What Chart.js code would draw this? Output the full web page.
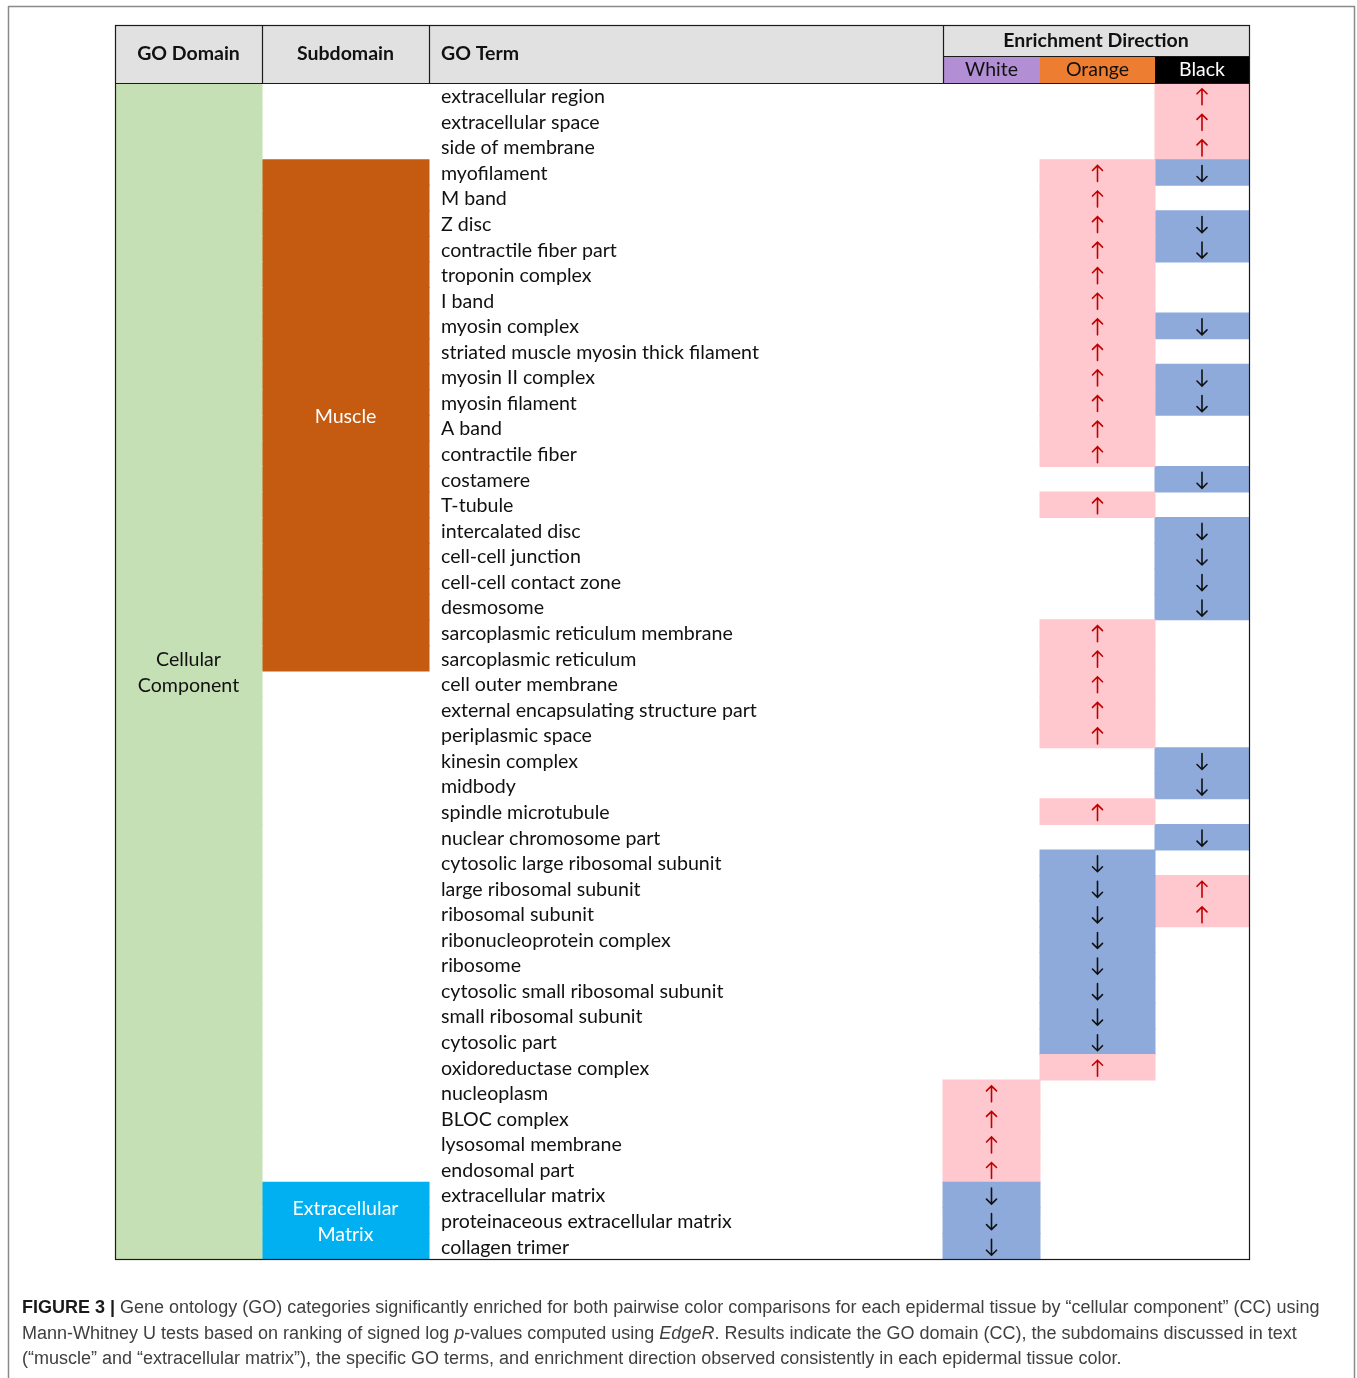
<!DOCTYPE html>
<html><head><meta charset="utf-8">
<script src="https://cdn.jsdelivr.net/npm/chart.js@4.4.1/dist/chart.umd.min.js"></script>
<style>html,body{margin:0;padding:0;background:#fff;overflow:hidden}#wrap{width:1357px;height:1378px;position:relative}canvas{display:block}</style>
</head><body><div id="wrap"><canvas id="c" width="1357" height="1378"></canvas></div>
<script>
// ---------- DATA ----------
const goTerms = [
  'extracellular region','extracellular space','side of membrane','myofilament','M band','Z disc',
  'contractile fiber part','troponin complex','I band','myosin complex','striated muscle myosin thick filament',
  'myosin II complex','myosin filament','A band','contractile fiber','costamere','T-tubule','intercalated disc',
  'cell-cell junction','cell-cell contact zone','desmosome','sarcoplasmic reticulum membrane','sarcoplasmic reticulum',
  'cell outer membrane','external encapsulating structure part','periplasmic space','kinesin complex','midbody',
  'spindle microtubule','nuclear chromosome part','cytosolic large ribosomal subunit','large ribosomal subunit',
  'ribosomal subunit','ribonucleoprotein complex','ribosome','cytosolic small ribosomal subunit',
  'small ribosomal subunit','cytosolic part','oxidoreductase complex','nucleoplasm','BLOC complex',
  'lysosomal membrane','endosomal part','extracellular matrix','proteinaceous extracellular matrix','collagen trimer'
];
// enrichment direction: 1 = up, -1 = down, 0 = none
const whiteDir  = [0,0,0,0,0,0,0,0,0,0,0,0,0,0,0,0,0,0,0,0,0,0,0,0,0,0,0,0,0,0,0,0,0,0,0,0,0,0,0,1,1,1,1,-1,-1,-1];
const orangeDir = [0,0,0,1,1,1,1,1,1,1,1,1,1,1,1,0,1,0,0,0,0,1,1,1,1,1,0,0,1,0,-1,-1,-1,-1,-1,-1,-1,-1,1,0,0,0,0,0,0,0];
const blackDir  = [1,1,1,-1,0,-1,-1,0,0,-1,0,-1,-1,0,0,-1,0,-1,-1,-1,-1,0,0,0,0,0,-1,-1,0,-1,0,1,1,0,0,0,0,0,0,0,0,0,0,0,0,0];
// subdomain of each term ('' = none)
const subdomainOfTerm = [
  '','','','Muscle','Muscle','Muscle','Muscle','Muscle','Muscle','Muscle','Muscle','Muscle','Muscle','Muscle','Muscle',
  'Muscle','Muscle','Muscle','Muscle','Muscle','Muscle','Muscle','Muscle','','','','','','','','','','','','','','','',
  '','','','','','ECM','ECM','ECM'
];
const subdomainLabels = {Muscle:['Muscle'], ECM:['Extracellular','Matrix']};
const domainLabel = ['Cellular','Component'];
const columnHeaders = ['GO Domain','Subdomain','GO Term'];
const directionHeader = 'Enrichment Direction';
const tissueNames = ['White','Orange','Black'];

// ---------- LAYOUT / STYLE ----------
const colEdges = [115,262,429,943,1040,1155,1249];
const TOP = 25, HEAD_MID = 56, HEAD_BOT = 83, BOT = 1259;
const colors = {
  header:'#e1e1e1', domain:'#c5e0b4', Muscle:'#c55a11', ECM:'#00b0f0',
  up:'#ffc7ce', down:'#8eaadb', tissue:['#b28fd5','#ed7d31','#000000']
};
const FONT = 'Lato, "Open Sans", sans-serif';

const tissueDirs = [whiteDir, orangeDir, blackDir];
const datasets = [
  {label:'domain', data: goTerms.map(()=>[colEdges[0],colEdges[1]]), backgroundColor: colors.domain},
  {label:'subdomain', data: subdomainOfTerm.map(s=> s ? [colEdges[1],colEdges[2]] : null),
   backgroundColor: ctx => colors[subdomainOfTerm[ctx.dataIndex]] || 'transparent'}
];
tissueDirs.forEach((dir,i)=>{
  datasets.push({label: tissueNames[i], data: dir.map(v=> v ? [colEdges[3+i], colEdges[4+i]] : null),
    backgroundColor: ctx => dir[ctx.dataIndex] > 0 ? colors.up : colors.down});
});
datasets.forEach(d=>{ d.barPercentage=1; d.categoryPercentage=1; d.grouped=false; d.borderWidth=0; d.inflateAmount=0.5; });

function drawArrow(ctx, x, y, up){
  ctx.save();
  ctx.strokeStyle = up ? '#c00000' : '#111111';
  ctx.lineWidth = 1.6;
  ctx.lineCap = 'round';
  const h = 8, hw = 5, hh = 5, s = up ? -1 : 1;
  ctx.beginPath();
  ctx.moveTo(x, y - s*h); ctx.lineTo(x, y + s*h);
  ctx.moveTo(x - hw, y + s*(h-hh)); ctx.lineTo(x, y + s*h); ctx.lineTo(x + hw, y + s*(h-hh));
  ctx.stroke();
  ctx.restore();
}

function line(ctx, x1,y1,x2,y2){ ctx.beginPath(); ctx.moveTo(x1,y1); ctx.lineTo(x2,y2); ctx.stroke(); }

const tablePlugin = {
  id:'tablePlugin',
  afterDatasetsDraw(chart){
    const ctx = chart.ctx, ys = chart.scales.y;
    const rowY = i => ys.getPixelForValue(i);
    ctx.save();
    // header
    ctx.fillStyle = colors.header;
    ctx.fillRect(colEdges[0], TOP, colEdges[6]-colEdges[0], HEAD_BOT-TOP);
    for(let i=0;i<3;i++){
      ctx.fillStyle = colors.tissue[i];
      ctx.fillRect(colEdges[3+i], HEAD_MID+1, colEdges[4+i]-colEdges[3+i], HEAD_BOT-HEAD_MID-1);
    }
    ctx.fillStyle = '#111';
    ctx.font = 'bold 19.5px ' + FONT;
    ctx.textBaseline = 'middle';
    ctx.textAlign = 'center';
    ctx.fillText(columnHeaders[0], (colEdges[0]+colEdges[1])/2, 54);
    ctx.fillText(columnHeaders[1], (colEdges[1]+colEdges[2])/2, 54);
    ctx.textAlign = 'left';
    ctx.fillText(columnHeaders[2], 441, 54);
    ctx.textAlign = 'center';
    ctx.fillText(directionHeader, (colEdges[3]+colEdges[6])/2, 41);
    ctx.font = '19.5px ' + FONT;
    tissueNames.forEach((t,i)=>{
      ctx.fillStyle = i===2 ? '#fff' : '#111';
      ctx.fillText(t, (colEdges[3+i]+colEdges[4+i])/2, 70);
    });
    // terms
    ctx.fillStyle = '#111';
    ctx.textAlign = 'left';
    ctx.font = '19.6px ' + FONT;
    goTerms.forEach((t,i)=> ctx.fillText(t, 441, rowY(i)+1));
    // domain label
    const midAll = (rowY(0) + rowY(goTerms.length-1))/2;
    ctx.textAlign = 'center';
    ctx.fillText(domainLabel[0], (colEdges[0]+colEdges[1])/2, midAll - 11);
    ctx.fillText(domainLabel[1], (colEdges[0]+colEdges[1])/2, midAll + 15);
    // subdomain labels
    ctx.fillStyle = '#fff';
    Object.keys(subdomainLabels).forEach(k=>{
      const idx = subdomainOfTerm.map((s,i)=> s===k ? i : -1).filter(i=>i>=0);
      const mid = (rowY(idx[0]) + rowY(idx[idx.length-1]))/2;
      const lines = subdomainLabels[k];
      lines.forEach((l,j)=> ctx.fillText(l, (colEdges[1]+colEdges[2])/2, mid + 1 + (j-(lines.length-1)/2)*26));
    });
    // arrows
    tissueDirs.forEach((dir,c)=>{
      const cx = (colEdges[3+c]+colEdges[4+c])/2;
      dir.forEach((v,i)=>{ if(v) drawArrow(ctx, cx, rowY(i)+1, v>0); });
    });
    // borders
    ctx.strokeStyle = '#1a1a1a';
    ctx.lineWidth = 1.2;
    ctx.strokeRect(colEdges[0]+0.5, TOP+0.5, colEdges[6]-colEdges[0], BOT-TOP);
    line(ctx, colEdges[0], HEAD_BOT+0.5, colEdges[6], HEAD_BOT+0.5);
    [1,2,3].forEach(k=> line(ctx, colEdges[k]+0.5, TOP, colEdges[k]+0.5, HEAD_BOT));
    line(ctx, colEdges[3], HEAD_MID+0.5, colEdges[6], HEAD_MID+0.5);
    // caption
    const runs = [
      [{t:'FIGURE 3 | ',b:1},{t:'Gene ontology (GO) categories significantly enriched for both pairwise color comparisons for each epidermal tissue by “cellular component” (CC) using'}],
      [{t:'Mann-Whitney U tests based on ranking of signed log '},{t:'p',i:1},{t:'-values computed using '},{t:'EdgeR',i:1},{t:'. Results indicate the GO domain (CC), the subdomains discussed in text'}],
      [{t:'(“muscle” and “extracellular matrix”), the specific GO terms, and enrichment direction observed consistently in each epidermal tissue color.'}]
    ];
    ctx.textAlign = 'left';
    runs.forEach((r,li)=>{
      let x = 22; const y = 1308 + li*25.7;
      r.forEach(p=>{
        ctx.font = (p.i?'italic ':'') + (p.b?'bold ':'') + '18px "Liberation Sans", Arial, sans-serif';
        ctx.fillStyle = p.b ? '#1a1a1a' : '#404040';
        ctx.fillText(p.t, x, y);
        x += ctx.measureText(p.t).width;
      });
    });
    // frame
    ctx.strokeStyle = '#8a8a8a';
    ctx.lineWidth = 1.5;
    line(ctx, 8, 6.5, 1355, 6.5);
    line(ctx, 8.5, 6, 8.5, 1378);
    line(ctx, 1354.5, 6, 1354.5, 1378);
    ctx.restore();
  }
};

new Chart(document.getElementById('c'), {
  type:'bar',
  data:{ labels: goTerms, datasets },
  options:{
    indexAxis:'y', responsive:false, animation:false, devicePixelRatio:1,
    layout:{ padding:{ left: colEdges[0], right: 1357-colEdges[6], top: HEAD_BOT, bottom: 1378-BOT } },
    scales:{
      x:{ type:'linear', min: colEdges[0], max: colEdges[6], display:false },
      y:{ type:'category', display:false, offset:true }
    },
    plugins:{ legend:{display:false}, tooltip:{enabled:false}, title:{display:false} }
  },
  plugins:[tablePlugin]
});
</script></body></html>
